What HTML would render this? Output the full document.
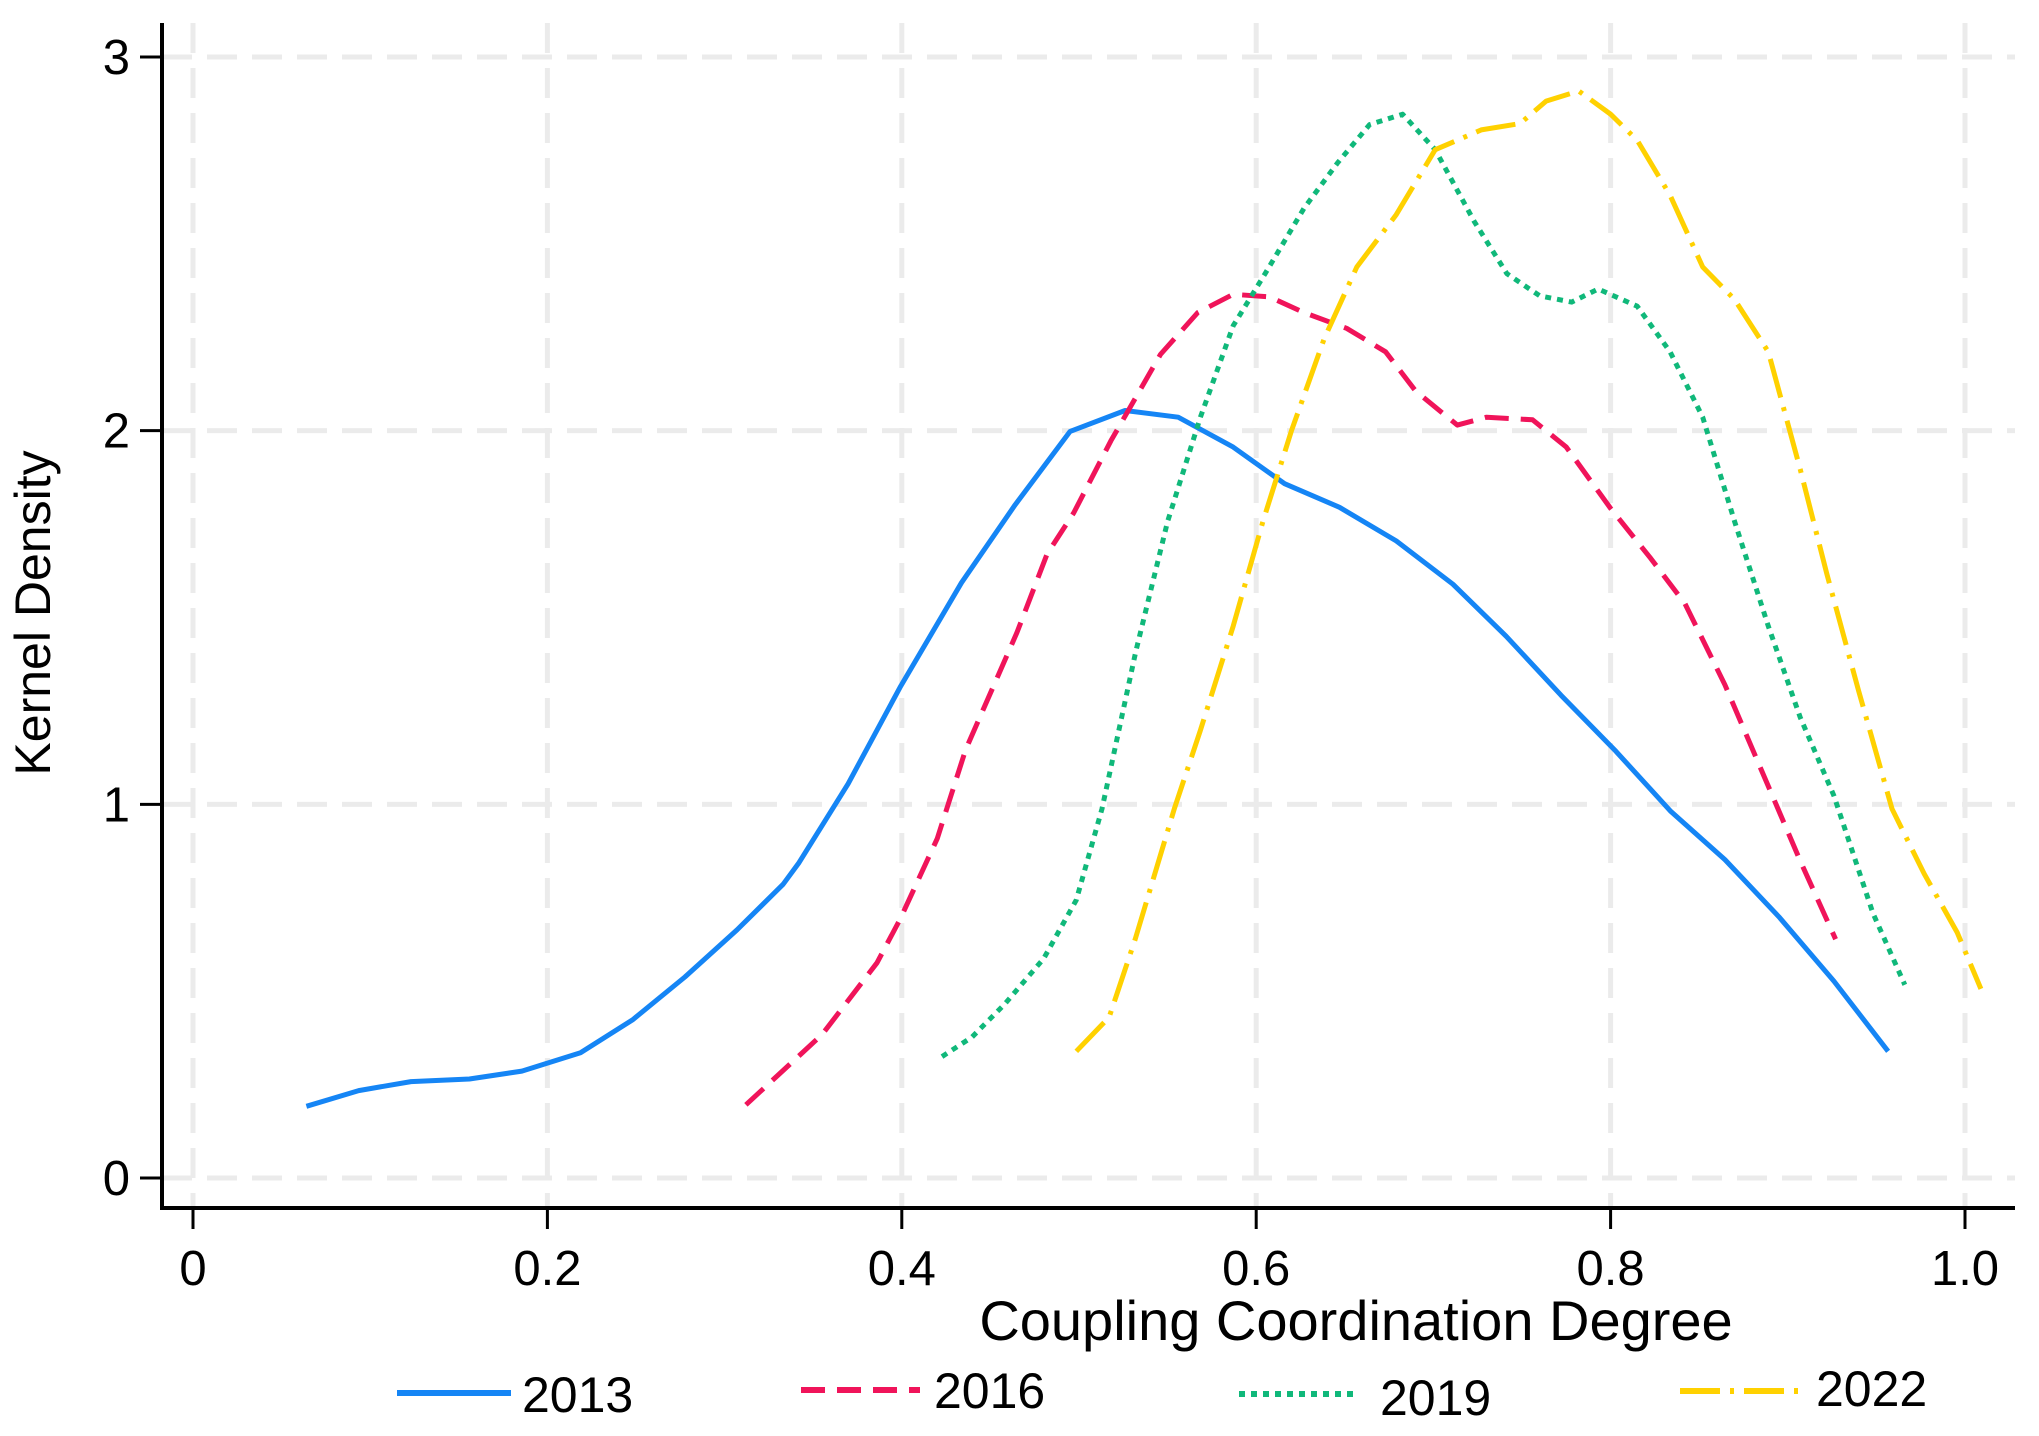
<!DOCTYPE html>
<html><head><meta charset="utf-8">
<style>
body{margin:0;background:#fff;}
svg{display:block;font-family:"Liberation Sans",Arial,sans-serif;}
</style></head>
<body>
<svg id="chart" width="2039" height="1436" viewBox="0 0 2039 1436" xmlns="http://www.w3.org/2000/svg">
<rect width="2039" height="1436" fill="#fff"/>
<g id="grid"></g>
<g id="series"></g>
<g id="axes"></g>
<text x="50" y="613" font-size="50" text-anchor="middle" transform="rotate(-90 50 613)">Kernel Density</text>
<text x="1356" y="1340" font-size="56" text-anchor="middle">Coupling Coordination Degree</text>
<g>
 <g>
  <line x1="397" y1="1393" x2="511" y2="1393" stroke="#1585f5" stroke-width="6"/>
  <text x="522" y="1412" font-size="50">2013</text>
 </g>
 <g>
  <line x1="801" y1="1390" x2="920" y2="1390" stroke="#f0145a" stroke-width="6" stroke-dasharray="24,12"/>
  <text x="934" y="1408" font-size="50">2016</text>
 </g>
 <g>
  <line x1="1239" y1="1394" x2="1357" y2="1394" stroke="#10b87a" stroke-width="6" stroke-dasharray="6,6"/>
  <text x="1380" y="1415" font-size="50">2019</text>
 </g>
 <g>
  <line x1="1680" y1="1391" x2="1800" y2="1391" stroke="#ffd100" stroke-width="6" stroke-dasharray="40,10,4,10"/>
  <text x="1816" y="1406" font-size="50">2022</text>
 </g>
</g>
</svg>
<script>
const xTicks=[0,0.2,0.4,0.6,0.8,1.0];
const xTickLabels=["0","0.2","0.4","0.6","0.8","1.0"];
const yTicks=[0,1,2,3];
const yTickLabels=["0","1","2","3"];
const x2013=[0.064,0.0935,0.123,0.156,0.1856,0.2187,0.248,0.2776,0.307,0.333,0.3417,0.3697,0.399,0.4337,0.464,0.495,0.526,0.556,0.587,0.616,0.647,0.679,0.711,0.741,0.772,0.803,0.834,0.8645,0.895,0.926,0.9566];
const y2013=[0.192,0.234,0.258,0.265,0.286,0.335,0.423,0.538,0.664,0.786,0.842,1.055,1.313,1.593,1.802,1.998,2.054,2.036,1.956,1.858,1.795,1.705,1.589,1.45,1.292,1.142,0.981,0.852,0.699,0.527,0.339];
const x2016=[0.312,0.355,0.386,0.399,0.42,0.436,0.465,0.482,0.497,0.518,0.546,0.567,0.587,0.6075,0.627,0.651,0.673,0.69,0.7135,0.73,0.756,0.775,0.8,0.8225,0.842,0.8645,0.885,0.907,0.927];
const y2016=[0.196,0.384,0.576,0.692,0.908,1.146,1.46,1.67,1.78,1.973,2.204,2.316,2.365,2.358,2.316,2.274,2.211,2.106,2.015,2.036,2.029,1.956,1.792,1.659,1.537,1.32,1.093,0.849,0.639];
const x2019=[0.4227,0.4396,0.458,0.48,0.4985,0.513,0.532,0.55,0.5685,0.587,0.605,0.627,0.646,0.664,0.6826,0.701,0.723,0.7415,0.76,0.778,0.793,0.815,0.8336,0.852,0.87,0.889,0.907,0.926,0.948,0.966];
const y2019=[0.325,0.377,0.465,0.587,0.744,0.988,1.408,1.757,2.036,2.281,2.42,2.595,2.717,2.819,2.847,2.752,2.56,2.42,2.361,2.344,2.379,2.333,2.211,2.036,1.757,1.477,1.233,1.023,0.709,0.517];
const x2022=[0.4985,0.517,0.5317,0.5538,0.5685,0.587,0.6038,0.62,0.6384,0.6568,0.679,0.701,0.727,0.749,0.7636,0.782,0.8,0.815,0.8336,0.852,0.87,0.889,0.907,0.922,0.94,0.9588,0.977,0.9956,1.009];
const y2022=[0.339,0.43,0.639,0.988,1.198,1.477,1.757,2.001,2.246,2.438,2.578,2.752,2.805,2.822,2.882,2.909,2.847,2.777,2.63,2.438,2.351,2.211,1.897,1.617,1.303,0.988,0.814,0.657,0.506];

const NS="http://www.w3.org/2000/svg";
const X0=193,X1=1965,Y0=1178,Y3=57;
const L=162,R=2015,T=23,B=1208;
function sx(v){return X0+(X1-X0)*v;}
function sy(v){return Y0+(Y3-Y0)*v/3;}
function mk(tag,parent,attrs){const e=document.createElementNS(NS,tag);for(const k in attrs)e.setAttribute(k,attrs[k]);parent.appendChild(e);return e;}
const grid=document.getElementById('grid'),axes=document.getElementById('axes'),series=document.getElementById('series');
xTicks.forEach((t,i)=>{
  const g=mk('line',grid,{x1:sx(t),x2:sx(t),y1:T,y2:B,stroke:'#ebebeb','stroke-width':5,'stroke-dasharray':'30,15'});
  
  
  const tk=mk('line',axes,{x1:sx(t),x2:sx(t),y1:B,y2:B+21,stroke:'#000','stroke-width':3});
  
  
  const tx=mk('text',axes,{x:sx(t),y:1285,'font-size':49,'text-anchor':'middle'});
  tx.textContent=xTickLabels[i];
  
  
});
yTicks.forEach((t,i)=>{
  const g=mk('line',grid,{x1:L,x2:R,y1:sy(t),y2:sy(t),stroke:'#ebebeb','stroke-width':5,'stroke-dasharray':'30,15'});
  
  
  const tk=mk('line',axes,{x1:L-22,x2:L,y1:sy(t),y2:sy(t),stroke:'#000','stroke-width':3});
  
  
  const tx=mk('text',axes,{x:130,y:sy(t)+17,'font-size':49,'text-anchor':'end'});
  tx.textContent=yTickLabels[i];
  
  
});
const ax1=mk('line',axes,{x1:L,x2:L,y1:T,y2:B+2,stroke:'#000','stroke-width':4});


const ax2=mk('line',axes,{x1:L-2,x2:R,y1:B,y2:B,stroke:'#000','stroke-width':4});


function drawSeries(xs,ys,color,dash,name){
  const d=xs.map((v,i)=>(i?'L':'M')+sx(v).toFixed(1)+','+sy(ys[i]).toFixed(1)).join(' ');
  const p=mk('path',series,{d:d,fill:'none',stroke:color,'stroke-width':5,'stroke-dasharray':dash,'stroke-linejoin':'round'});
  
  
}
drawSeries(x2013,y2013,'#1585f5','none','line-2013');
drawSeries(x2016,y2016,'#f0145a','24,12','line-2016');
drawSeries(x2019,y2019,'#10b87a','6,6','line-2019');
drawSeries(x2022,y2022,'#ffd100','40,10,4,10','line-2022');
</script>
</body></html>
